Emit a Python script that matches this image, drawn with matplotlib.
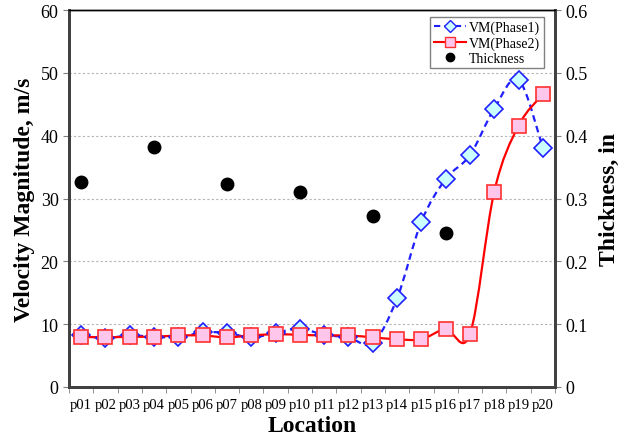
import numpy as np
import matplotlib.pyplot as plt
from matplotlib.path import Path
from matplotlib.patches import PathPatch
from matplotlib.lines import Line2D

plt.rcParams['font.family'] = ['Liberation Serif', 'DejaVu Serif']

locations = ['p%02d' % i for i in range(1, 21)]
vm_phase1 = [8.2, 7.8, 8.2, 8.0, 7.9, 8.7, 8.6, 7.9, 8.6, 9.3,
             8.3, 7.9, 7.0, 14.1, 26.3, 33.1, 36.9, 44.3, 48.9, 38.1]
vm_phase2 = [8.0, 7.9, 8.0, 8.0, 8.2, 8.2, 7.9, 8.2, 8.4, 8.3,
             8.2, 8.2, 7.9, 7.6, 7.6, 9.2, 8.4, 31.1, 41.6, 46.6]
thick_loc = ['p01', 'p04', 'p07', 'p10', 'p13', 'p16']
thickness = [0.326, 0.382, 0.323, 0.310, 0.272, 0.245]


def smooth_path(x, y):
    # Bezier path through the points, Catmull-Rom style tangents
    x = np.asarray(x, float)
    y = np.asarray(y, float)
    verts = [(x[0], y[0])]
    codes = [Path.MOVETO]
    n = len(x)
    for i in range(n - 1):
        i0 = max(i - 1, 0)
        i3 = min(i + 2, n - 1)
        c1 = (x[i] + (x[i + 1] - x[i0]) / 6, y[i] + (y[i + 1] - y[i0]) / 6)
        c2 = (x[i + 1] - (x[i3] - x[i]) / 6, y[i + 1] - (y[i3] - y[i]) / 6)
        verts += [c1, c2, (x[i + 1], y[i + 1])]
        codes += [Path.CURVE4] * 3
    return Path(verts, codes)


fig = plt.figure(figsize=(6.26, 4.39), dpi=100)
ax = fig.add_axes([69 / 626, 1 - 388 / 439, 486 / 626, 377 / 439])
ax2 = ax.twinx()

xs = np.arange(len(locations))
ax.set_xlim(-0.5, len(locations) - 0.5)
ax.set_ylim(0, 60)
ax2.set_ylim(0, 0.6)

ax.set_yticks(np.arange(0, 61, 10))
ax.yaxis.grid(True, color='#b4b4b4', linestyle=(0, (2, 2)), linewidth=0.8)
ax.set_axisbelow(True)

# curves
ax.add_patch(PathPatch(smooth_path(xs, vm_phase1), fill=False,
                       edgecolor='#1f1fff', linestyle=(0, (3, 2)), linewidth=1.6, zorder=2))
ax.add_patch(PathPatch(smooth_path(xs, vm_phase2), fill=False,
                       edgecolor='#ff0000', linewidth=1.6, zorder=2))
ax.plot(xs, vm_phase1, linestyle='none', marker='D', markersize=9,
        markerfacecolor='#ccffff', markeredgecolor='#1f1fff', markeredgewidth=1.2, zorder=3)
ax.plot(xs, vm_phase2, linestyle='none', marker='s', markersize=10,
        markerfacecolor='#ffc6ec', markeredgecolor='#ff3030', markeredgewidth=1.2, zorder=4)

tx = [locations.index(t) for t in thick_loc]
ax2.plot(tx, thickness, linestyle='none', marker='o', markersize=9,
         color='black', zorder=3)

# axes styling
ax.set_xticks(xs)
ax.set_xticklabels(locations, fontsize=10.5)
ax.set_xticks(np.arange(-0.5, len(locations), 1), minor=True)
ax.tick_params(axis='x', which='major', length=0, pad=8)
ax.tick_params(axis='x', which='minor', length=4, color='#808080')
ax.tick_params(axis='y', labelsize=13, length=4, color='#808080')
ax2.set_yticks(np.arange(0, 0.61, 0.1))
ax2.set_yticklabels(['0', '0.1', '0.2', '0.3', '0.4', '0.5', '0.6'])
ax2.tick_params(axis='y', labelsize=13, length=4, color='#808080')

for a in (ax, ax2):
    for side in ('left', 'bottom', 'right'):
        a.spines[side].set_color('#404040')
        a.spines[side].set_linewidth(2)
    a.spines['top'].set_color('black')
    a.spines['top'].set_linewidth(1)

ax.set_xlabel('Location', fontsize=17, fontweight='bold', labelpad=3)
ax.set_ylabel('Velocity Magnitude, m/s', fontsize=17, fontweight='bold', labelpad=4)
ax2.set_ylabel('Thickness, in', fontsize=17, fontweight='bold', labelpad=8)

handles = [
    Line2D([], [], color='#1f1fff', linestyle=(0, (3, 2)), linewidth=1.5, marker='D',
           markersize=6, markerfacecolor='#ccffff', markeredgecolor='#1f1fff'),
    Line2D([], [], color='#ff0000', linewidth=1.5, marker='s', markersize=7,
           markerfacecolor='#ffc6ec', markeredgecolor='#ff3030'),
    Line2D([], [], linestyle='none', marker='o', markersize=6, color='black'),
]
leg = ax2.legend(handles, ['VM(Phase1)', 'VM(Phase2)', 'Thickness'],
                 loc='upper right', bbox_to_anchor=(0.977, 0.981), borderaxespad=0,
                 fontsize=10, fancybox=False, framealpha=1, edgecolor='#808080',
                 handlelength=2.3, handletextpad=0.25, borderpad=0.25, labelspacing=0.15)
leg.get_frame().set_linewidth(1)

fig.savefig('out.png', dpi=100)
